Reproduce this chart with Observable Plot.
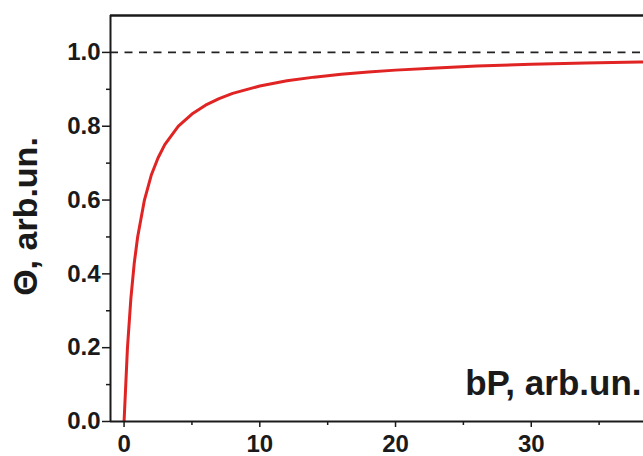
<!DOCTYPE html>
<html><head><meta charset="utf-8">
<script src="https://cdn.jsdelivr.net/npm/d3@7"></script>
<script src="https://cdn.jsdelivr.net/npm/@observablehq/plot@0.6"></script>
<style>html,body{margin:0;padding:0;background:#fff;overflow:hidden}</style>
</head><body><div id="chart"></div>
<script>
// Data
const bP = [0, 0.25, 0.5, 0.75, 1, 1.5, 2, 2.5, 3, 4, 5, 6, 7, 8, 10, 12, 14, 16, 18, 20, 23, 26, 30, 34, 38, 40];
const theta = [0, 0.20, 0.333, 0.429, 0.50, 0.60, 0.667, 0.714, 0.75, 0.80, 0.833, 0.857, 0.875, 0.889, 0.909, 0.923, 0.933, 0.941, 0.947, 0.952, 0.958, 0.963, 0.968, 0.971, 0.974, 0.976];
const saturation = [1.0];
const xMajorTicks = [0, 10, 20, 30];
const xMinorTicks = [5, 15, 25, 35];
const yMajorTicks = [0, 0.2, 0.4, 0.6, 0.8, 1.0];
const yMinorTicks = [0.1, 0.3, 0.5, 0.7, 0.9];
const xLabel = "bP, arb.un.";
const yLabel = "Θ, arb.un.";

const data = bP.map((x, i) => ({x, y: theta[i]}));
const font = "'Liberation Sans', Arial, sans-serif";

const chart = Plot.plot({
  width: 643, height: 456,
  marginLeft: 110, marginRight: 0, marginTop: 15, marginBottom: 35,
  style: {fontFamily: font, fontWeight: "bold", color: "#1a1a1a", background: "#fff"},
  x: {domain: [-1, 38.27]},
  y: {domain: [0, 1.1]},
  marks: [
    Plot.ruleY(saturation, {stroke: "#222", strokeWidth: 1.6, strokeDasharray: "8,6.5"}),
    Plot.line(data, {x: "x", y: "y", stroke: "#e02424", strokeWidth: 3, clip: true}),
    Plot.ruleY([0], {stroke: "#1a1a1a", strokeWidth: 2}),
    Plot.ruleX([-1], {stroke: "#1a1a1a", strokeWidth: 2}),
    Plot.ruleY([1.1], {stroke: "#1a1a1a", strokeWidth: 2.5}),
    Plot.axisX(xMajorTicks, {tickSize: 6, tickPadding: 7, tickFormat: d => String(d), fontSize: 24, fontWeight: "bold", strokeWidth: 1.5, label: null}),
    Plot.axisX(xMinorTicks, {tickSize: 4, tickFormat: () => "", strokeWidth: 1.5, label: null}),
    Plot.axisY(yMajorTicks, {tickSize: 8, tickPadding: 2, tickFormat: d3.format(".1f"), fontSize: 24, fontWeight: "bold", strokeWidth: 1.5, label: null}),
    Plot.axisY(yMinorTicks, {tickSize: 4, tickFormat: () => "", strokeWidth: 1.5, label: null}),
    Plot.text([xLabel], {text: d => d, frameAnchor: "bottom-right", textAnchor: "end", lineAnchor: "bottom", dx: -2, dy: -27, fontSize: 35, fontWeight: "bold", fill: "#1a1a1a"}),
    Plot.text([yLabel], {text: d => d, frameAnchor: "left", textAnchor: "middle", rotate: -90, lineAnchor: "bottom", dx: -74, dy: -2, fontSize: 34, fontWeight: "bold", fill: "#1a1a1a"})
  ]
});
document.getElementById("chart").appendChild(chart);
</script>
</body></html>
